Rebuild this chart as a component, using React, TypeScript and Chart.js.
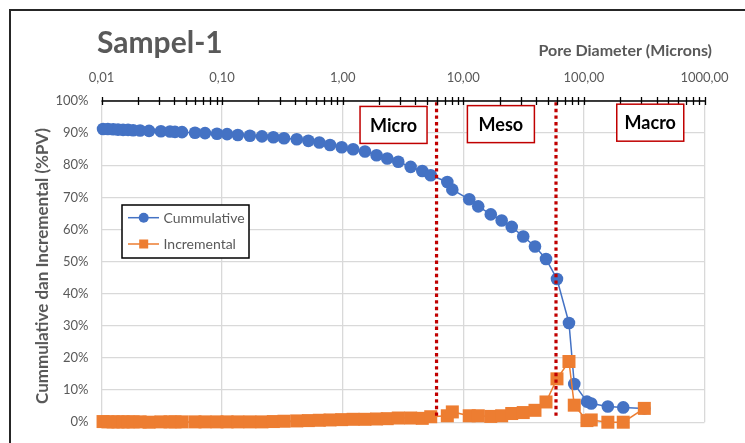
import React, { useEffect, useRef } from 'react';
import { Chart, registerables } from 'chart.js';

Chart.register(...registerables);

// ---- data (pore diameter in microns) ----
const diameters = [
  0.0103, 0.0113, 0.0125, 0.0137, 0.0151, 0.0166, 0.0183, 0.0209, 0.0248, 0.0311,
  0.037, 0.0407, 0.0465, 0.0596, 0.0722, 0.0907, 0.11, 0.135, 0.17, 0.214,
  0.266, 0.326, 0.416, 0.519, 0.64, 0.785, 0.981, 1.22, 1.53, 1.91,
  2.34, 2.89, 3.66, 4.57, 5.37, 7.37, 8.11, 11.2, 13.3, 16.9,
  20.8, 25.2, 31.4, 39.3, 48.5, 59.8, 75.2, 83.2, 106, 115,
  158, 212, 317,
];
const cumulative = [
  91.3, 91.3, 91.2, 91.1, 91.0, 91.0, 90.9, 90.8, 90.7, 90.6,
  90.5, 90.4, 90.3, 90.1, 90.0, 89.8, 89.7, 89.4, 89.2, 89.0,
  88.7, 88.4, 88.1, 87.6, 87.1, 86.3, 85.6, 85.0, 84.3, 83.1,
  82.1, 81.1, 79.5, 78.2, 76.9, 74.8, 72.4, 69.4, 67.2, 64.7,
  62.8, 60.8, 57.8, 54.7, 50.8, 44.6, 30.9, 11.9, 6.4, 5.8,
  4.9, 4.6, 4.3,
];
const incremental = [
  0.2, 0.1, 0.1, 0.1, 0.1, 0.1, 0.1, 0.1, 0.0, 0.1,
  0.1, 0.1, 0.1, 0.1, 0.1, 0.1, 0.1, 0.1, 0.1, 0.1,
  0.2, 0.3, 0.4, 0.5, 0.6, 0.7, 0.8, 0.9, 0.9, 1.0,
  1.1, 1.3, 1.3, 1.2, 1.7, 2.0, 3.2, 2.0, 2.0, 1.8,
  2.0, 2.7, 3.0, 3.7, 6.3, 13.5, 18.9, 5.3, 0.5, 0.7,
  0.0, 0.0, 4.3,
];
const seriesNames = ['Cummulative', 'Incremental'];
const decades = [0.01, 0.1, 1, 10, 100, 1000];
const xTickLabels = ['0,01', '0,10', '1,00', '10,00', '100,00', '1000,00'];
const yTickStep = 10;
const boundaries = [6.0, 58.7];
const boundaryRange = [2, 100];
const zoneNames = ['Micro', 'Meso', 'Macro'];
const chartTitle = 'Sampel-1';
const xAxisTitle = 'Pore Diameter (Microns)';
const yAxisTitle = 'Cummulative dan Incremental (%PV)';

// annotation anchors (data coordinates)
const zoneAnchorX = [2.64, 20.5, 355];
const zoneAnchorY = [92.55, 92.8, 93.25];

const BLUE = '#4472c4';
const ORANGE = '#ed7d31';
const RED = '#c00000';
const GRAY = '#595959';
const FONT = 'Lato, "Open Sans", sans-serif';

const isDecade = (v: number) => Math.abs(Math.log10(v) - Math.round(Math.log10(v))) < 1e-6;

const decorPlugin = {
  id: 'decor',
  beforeDraw(chart: any) {
    const { ctx, width, height } = chart;
    ctx.save();
    ctx.fillStyle = '#ffffff';
    ctx.fillRect(0, 0, width, height);
    ctx.restore();
  },
  afterDraw(chart: any) {
    const { ctx, chartArea: area } = chart;
    const xs = chart.scales.x;
    const ys = chart.scales.y;
    ctx.save();

    // top axis line with cross tick marks
    ctx.strokeStyle = '#000000';
    ctx.lineWidth = 1.3;
    ctx.beginPath();
    ctx.moveTo(area.left, area.top);
    ctx.lineTo(area.right + 1, area.top);
    ctx.stroke();
    xs.ticks.forEach((t: any) => {
      const px = Math.round(xs.getPixelForValue(t.value)) + 0.5;
      ctx.beginPath();
      ctx.moveTo(px, area.top - 4);
      ctx.lineTo(px, area.top + 4);
      ctx.stroke();
    });

    // zone label boxes
    ctx.font = `bold 18px ${FONT}`;
    ctx.textAlign = 'center';
    ctx.textBaseline = 'middle';
    zoneNames.forEach((name, i) => {
      const cx = xs.getPixelForValue(zoneAnchorX[i]);
      const cy = ys.getPixelForValue(zoneAnchorY[i]);
      const w = 67, h = 37;
      ctx.fillStyle = '#ffffff';
      ctx.fillRect(cx - w / 2, cy - h / 2, w, h);
      ctx.strokeStyle = RED;
      ctx.lineWidth = 1.5;
      ctx.strokeRect(cx - w / 2, cy - h / 2, w, h);
      ctx.fillStyle = '#000000';
      ctx.fillText(name, cx, cy + 1);
    });

    // legend
    const lx = 122, ly = 205, lw = 127, lh = 53;
    ctx.fillStyle = '#ffffff';
    ctx.fillRect(lx, ly, lw, lh);
    ctx.strokeStyle = '#000000';
    ctx.lineWidth = 1.5;
    ctx.strokeRect(lx, ly, lw, lh);
    const rows = [217.7, 244];
    const colors = [BLUE, ORANGE];
    ctx.font = `14px ${FONT}`;
    ctx.textAlign = 'left';
    ctx.textBaseline = 'middle';
    seriesNames.forEach((name, i) => {
      const y = rows[i];
      ctx.strokeStyle = colors[i];
      ctx.lineWidth = 1.5;
      ctx.beginPath();
      ctx.moveTo(128, y);
      ctx.lineTo(159, y);
      ctx.stroke();
      ctx.fillStyle = colors[i];
      if (i === 0) {
        ctx.beginPath();
        ctx.arc(143.7, y, 5, 0, Math.PI * 2);
        ctx.fill();
      } else {
        ctx.fillRect(143.7 - 4.5, y - 4.5, 9, 9);
      }
      ctx.fillStyle = GRAY;
      ctx.fillText(name, 163.5, y + 0.5);
    });

    // titles
    ctx.fillStyle = GRAY;
    ctx.textBaseline = 'alphabetic';
    ctx.textAlign = 'left';
    ctx.font = `bold 30px ${FONT}`;
    ctx.fillText(chartTitle, 97, 53);
    ctx.textAlign = 'right';
    ctx.font = `bold 16px ${FONT}`;
    ctx.fillText(xAxisTitle, 712, 56);

    ctx.save();
    ctx.translate(47.5, 266);
    ctx.rotate(-Math.PI / 2);
    ctx.textAlign = 'center';
    ctx.font = `bold 17px ${FONT}`;
    ctx.fillText(yAxisTitle, 0, 0);
    ctx.restore();

    // outer frame (top and left)
    ctx.strokeStyle = '#262626';
    ctx.lineWidth = 2;
    ctx.beginPath();
    ctx.moveTo(10, 460);
    ctx.lineTo(10, 10);
    ctx.lineTo(760, 10);
    ctx.stroke();

    ctx.restore();
  },
};

export default function App() {
  const ref = useRef<HTMLCanvasElement | null>(null);

  useEffect(() => {
    if (!ref.current) return;
    const minorTicks: number[] = [];
    decades.forEach((d) => {
      for (let k = 1; k <= 9; k++) {
        const v = d * k;
        if (v <= 1000 + 1e-9) minorTicks.push(Number(v.toPrecision(6)));
      }
    });

    const chart = new Chart(ref.current, {
      type: 'scatter',
      data: {
        datasets: [
          ...boundaries.map((b) => ({
            label: 'boundary',
            data: boundaryRange.map((y) => ({ x: b, y })),
            showLine: true,
            borderColor: RED,
            borderWidth: 3.2,
            borderDash: [3.4, 3.2],
            pointRadius: 0,
            clip: false as any,
            order: -1,
          })),
          {
            label: seriesNames[1],
            data: diameters.map((d, i) => ({ x: d, y: incremental[i] })),
            showLine: true,
            borderColor: ORANGE,
            backgroundColor: ORANGE,
            borderWidth: 1.5,
            pointStyle: 'rect',
            pointRadius: 9.2,
            pointBorderWidth: 0,
            clip: false as any,
            order: 0,
          },
          {
            label: seriesNames[0],
            data: diameters.map((d, i) => ({ x: d, y: cumulative[i] })),
            showLine: true,
            borderColor: BLUE,
            backgroundColor: BLUE,
            borderWidth: 1.5,
            pointStyle: 'circle',
            pointRadius: 6.3,
            pointBorderWidth: 0,
            clip: false as any,
            order: 1,
          },
        ],
      },
      options: {
        responsive: false,
        animation: false,
        devicePixelRatio: 1,
        layout: { padding: { left: 0, right: 40.5, top: 0, bottom: 13 } },
        plugins: {
          legend: { display: false },
          tooltip: { enabled: false },
          title: { display: false },
        },
        scales: {
          x: {
            type: 'logarithmic',
            position: 'top',
            min: 0.01,
            max: 1000,
            afterBuildTicks: (scale: any) => {
              scale.ticks = minorTicks.map((v) => ({ value: v, major: isDecade(v) }));
            },
            afterFit: (scale: any) => {
              scale.height = 101;
            },
            ticks: {
              autoSkip: false,
              maxRotation: 0,
              padding: 15,
              color: GRAY,
              font: { family: FONT, size: 13 },
              callback: (value: any) => {
                const v = Number(value);
                const idx = decades.findIndex((d) => Math.abs(d - v) / d < 1e-6);
                return idx >= 0 ? xTickLabels[idx] : '';
              },
            },
            grid: {
              color: (c: any) => (c.tick && isDecade(c.tick.value) ? '#d9d9d9' : 'rgba(0,0,0,0)'),
              lineWidth: 1.3,
              drawTicks: false,
            },
            border: { display: false },
          },
          y: {
            type: 'linear',
            min: 0,
            max: 100,
            afterFit: (scale: any) => {
              scale.width = 101.5;
            },
            ticks: {
              stepSize: yTickStep,
              padding: 13,
              color: GRAY,
              font: { family: FONT, size: 13 },
              callback: (v: any) => `${v}%`,
            },
            grid: { color: '#d9d9d9', lineWidth: 1.3, drawTicks: false },
            border: { display: false },
          },
        },
      },
      plugins: [decorPlugin],
    } as any);

    return () => chart.destroy();
  }, []);

  return (
    <div style={{ position: 'absolute', left: 0, top: 0, width: 745, height: 443 }}>
      <canvas ref={ref} width={745} height={443} style={{ display: 'block', width: 745, height: 443 }} />
    </div>
  );
}
